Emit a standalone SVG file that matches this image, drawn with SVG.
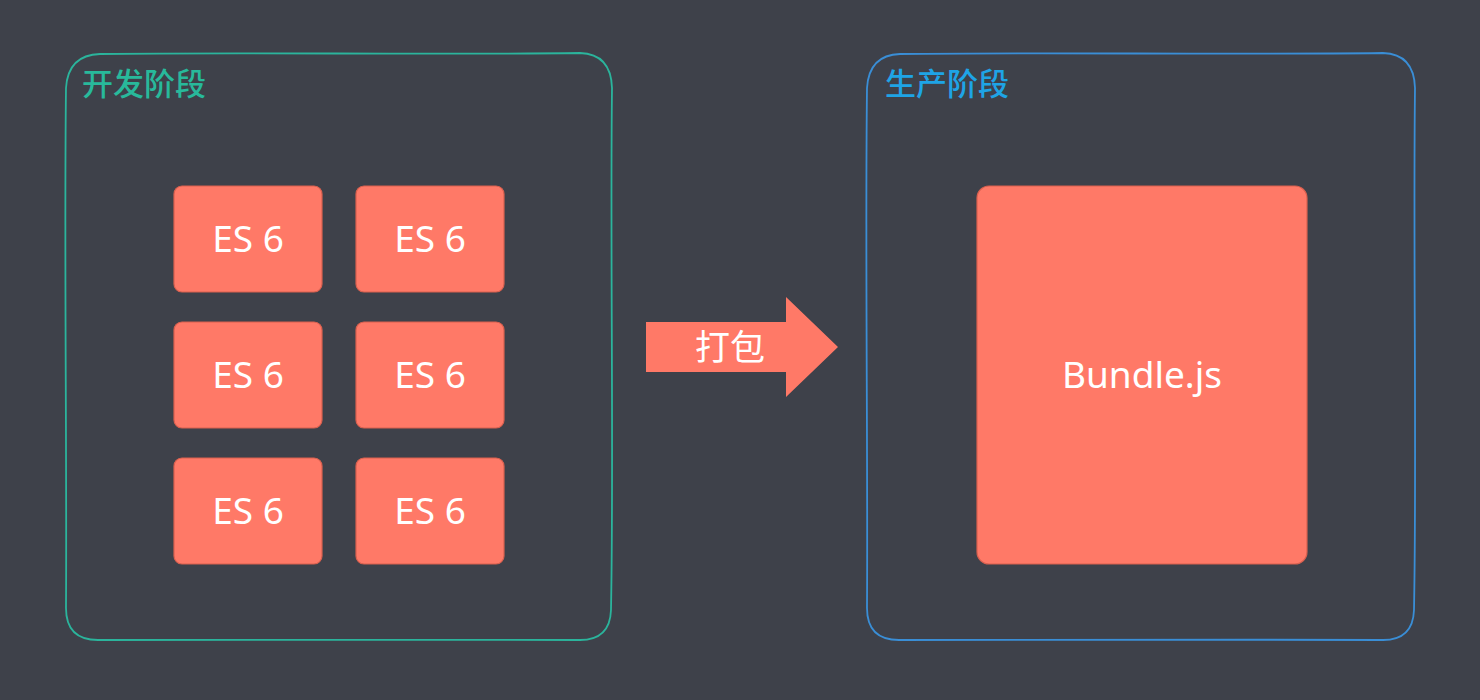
<svg xmlns="http://www.w3.org/2000/svg" width="1480" height="700" viewBox="0 0 1480 700">
<style>
.box{fill:#ff7967;stroke:#d9604f;stroke-width:1.2}
.lbl{font-family:"Noto Sans","Open Sans","Noto Sans CJK SC",sans-serif;font-size:37px;fill:#ffffff;text-anchor:middle}
.title{font-family:"Noto Sans CJK SC",sans-serif;font-size:31px;font-weight:500}
.frame{fill:none;stroke-width:1.8}
</style>
<rect x="0" y="0" width="1480" height="700" fill="#3e414a"/>
<g id="dev-stage">
<path class="frame" stroke="#2bb49c" d="M100,54 C250,52 420,55 580,53 Q611,54 612,88 C610,250 614,450 611,610 Q610,640 580,640 C420,639 250,641 98,640 Q66,640 66,608 C67,450 64,250 66,88 Q68,55 100,54 Z"/>
<text class="title" x="82" y="95" fill="#28b99b">开发阶段</text>
</g>
<g id="prod-stage">
<path class="frame" stroke="#3a8ed6" d="M900,54 C1050,52 1220,55 1383,53 Q1414,54 1415,88 C1413,250 1417,450 1414,610 Q1413,640 1383,640 C1220,639 1050,641 899,640 Q867,640 867,608 C868,450 865,250 867,88 Q869,55 900,54 Z"/>
<text class="title" x="885" y="95" fill="#1ea4e6">生产阶段</text>
</g>
<g id="es6-1"><rect class="box" x="174" y="186" width="148" height="106" rx="8"/><text class="lbl" x="248" y="252">ES 6</text></g>
<g id="es6-2"><rect class="box" x="356" y="186" width="148" height="106" rx="8"/><text class="lbl" x="430" y="252">ES 6</text></g>
<g id="es6-3"><rect class="box" x="174" y="322" width="148" height="106" rx="8"/><text class="lbl" x="248" y="388">ES 6</text></g>
<g id="es6-4"><rect class="box" x="356" y="322" width="148" height="106" rx="8"/><text class="lbl" x="430" y="388">ES 6</text></g>
<g id="es6-5"><rect class="box" x="174" y="458" width="148" height="106" rx="8"/><text class="lbl" x="248" y="524">ES 6</text></g>
<g id="es6-6"><rect class="box" x="356" y="458" width="148" height="106" rx="8"/><text class="lbl" x="430" y="524">ES 6</text></g>
<g id="bundle"><rect class="box" x="977" y="186" width="330" height="378" rx="12"/><text class="lbl" x="1142" y="388">Bundle.js</text></g>
<g id="connectors">
<g id="pack-arrow">
<polygon points="646,322 786,322 786,297 838,347 786,397 786,372 646,372" fill="#ff7967"/>
<text class="lbl" x="730" y="360" style="font-family:'Noto Sans CJK SC',sans-serif;font-size:35px">打包</text>
</g>
</g>
</svg>
